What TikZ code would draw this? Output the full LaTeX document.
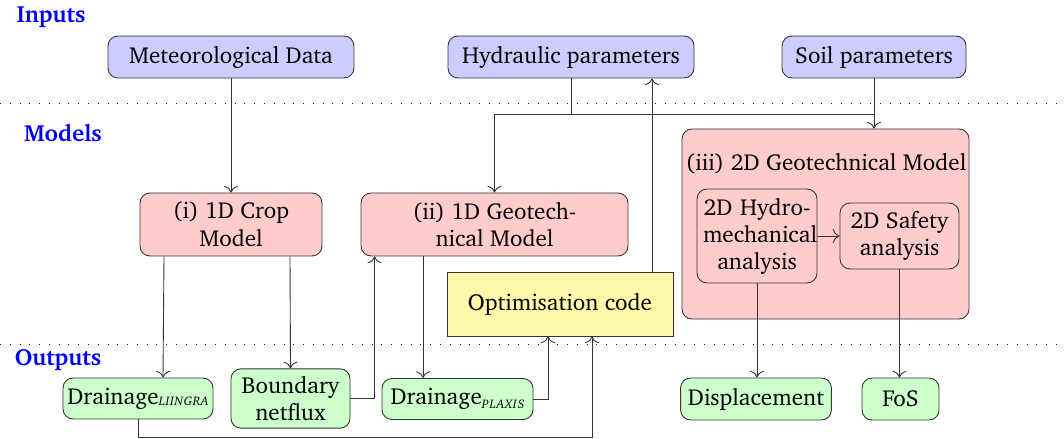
\documentclass[tikz,border=0pt]{standalone}
\usepackage[T1]{fontenc}
\usepackage{charter}
\usetikzlibrary{arrows.meta}
\newlength\pxu
\setlength\pxu{0.45pt}
\definecolor{optyellow}{RGB}{255,247,170}
\newcommand\subtag[2]{\raisebox{#1}{\fontsize{5.6}{6}\selectfont\itshape #2}}
\tikzset{
  base/.style={draw=black!80, rounded corners=10\pxu, align=center, font=\fontsize{10.4}{12.2}\selectfont},
  inbox/.style={base, fill=blue!20, minimum height=42\pxu},
  modbox/.style={base, fill=red!20},
  outbox/.style={base, fill=green!20, minimum height=42\pxu},
  lbl/.style={text=blue, font=\fontsize{10.5}{12.2}\selectfont\bfseries},
  conn/.style={-{To[length=3pt]}, draw=black!80},
  plain/.style={draw=black!80},
  sep/.style={blue, loosely dotted}
}
\begin{document}
\begin{tikzpicture}[x=\pxu, y=-\pxu]
\useasboundingbox (0,0) rectangle (1064,439);
% section labels
\node[lbl] (lin) at (51,17) {Inputs};
\node[lbl] (lmod) at (63,133) {Models};
\node[lbl] (lout) at (58,360) {Outputs};
\draw[sep] (0,103) -- (1064,103);
\draw[sep] (0,344) -- (1064,344);
% inputs
\node[inbox, minimum width=246\pxu] (met) at (231,57) {Meteorological Data};
\node[inbox, minimum width=246\pxu] (hyd) at (571,57) {Hydraulic parameters};
\node[inbox, minimum width=184\pxu] (soil) at (874,57) {Soil parameters};
% models
\node[modbox, minimum width=182\pxu, minimum height=63\pxu] (crop) at (231,224.5) {(i) 1D Crop\\Model};
\node[modbox, minimum width=267\pxu, minimum height=63\pxu] (geo1) at (494.5,224.5) {(ii) 1D Geotech-\\nical Model};
\node[base, rounded corners=0pt, fill=optyellow, minimum width=226\pxu, minimum height=64\pxu] (opt) at (560,304) {Optimisation code};
\node[modbox, minimum width=287\pxu, minimum height=190\pxu] (geo2) at (825.5,224) {};
\node[base, draw=none] (geo2t) at (826,164) {(iii) 2D Geotechnical Model};
\node[modbox, text width=108\pxu, inner xsep=6\pxu, minimum height=94\pxu] (hm) at (757,236) {2D~Hydro-\\mechanical\\analysis};
\node[modbox, minimum width=119\pxu, minimum height=66\pxu] (safe) at (899.5,236) {2D Safety\\analysis};
% outputs
\node[outbox, minimum width=150\pxu, minimum height=41\pxu, inner xsep=2pt] (dL) at (138,398.5) {Drainage\subtag{-0.4pt}{L\kern.3pt I\kern.3pt I\kern.3pt N\kern.3pt G\kern.3pt R\kern.3pt A}};
\node[outbox, minimum width=119\pxu, minimum height=59\pxu] (bnf) at (290.5,398.5) {Boundary\\netflux};
\node[outbox, minimum width=151\pxu, minimum height=41\pxu, inner xsep=2pt] (dP) at (457.5,399) {Drainage\subtag{-1.8pt}{P\kern.4pt L\kern.4pt A\kern.4pt X\kern.4pt I\kern.4pt S}};
\node[outbox, minimum width=150\pxu] (disp) at (756,399) {Displacement};
\node[outbox, minimum width=77\pxu] (fos) at (900.5,399) {FoS};
% connectors
\coordinate (j) at (494.5,114);
\draw[conn] (met) -- (crop);
\draw[conn] ([xshift=-67\pxu]crop.south) -- ([xshift=25\pxu]dL.north);
\draw[conn] ([xshift=59\pxu]crop.south) -- (bnf.north);
\draw[conn] (bnf.east) -| ([xshift=14\pxu]geo1.south west);
\draw[conn] ([xshift=-71.5\pxu]geo1.south) -- ([xshift=-71.5\pxu]geo1.south |- dP.north);
\draw[conn] (dP.east) -| ([xshift=-12\pxu]opt.south);
\coordinate (dLb) at ([yshift=-18\pxu]dL.south);
\draw[conn] (dL.south) -- (dLb) -| ([xshift=32\pxu]opt.south);
\draw[conn] ([xshift=92\pxu]opt.north) -- ([xshift=92\pxu]opt.north |- hyd.south);
\draw[conn] (hyd.south) |- (j) -- (geo1.north);
\draw[plain] (soil.south) |- (j);
\draw[conn] (soil.south) -- (soil.south |- geo2.north);
\draw[conn] (hm.east |- safe.west) -- (safe.west);
\draw[conn] (hm.south) -- (hm.south |- disp.north);
\draw[conn] (safe.south) -- (safe.south |- fos.north);
\end{tikzpicture}
\end{document}
